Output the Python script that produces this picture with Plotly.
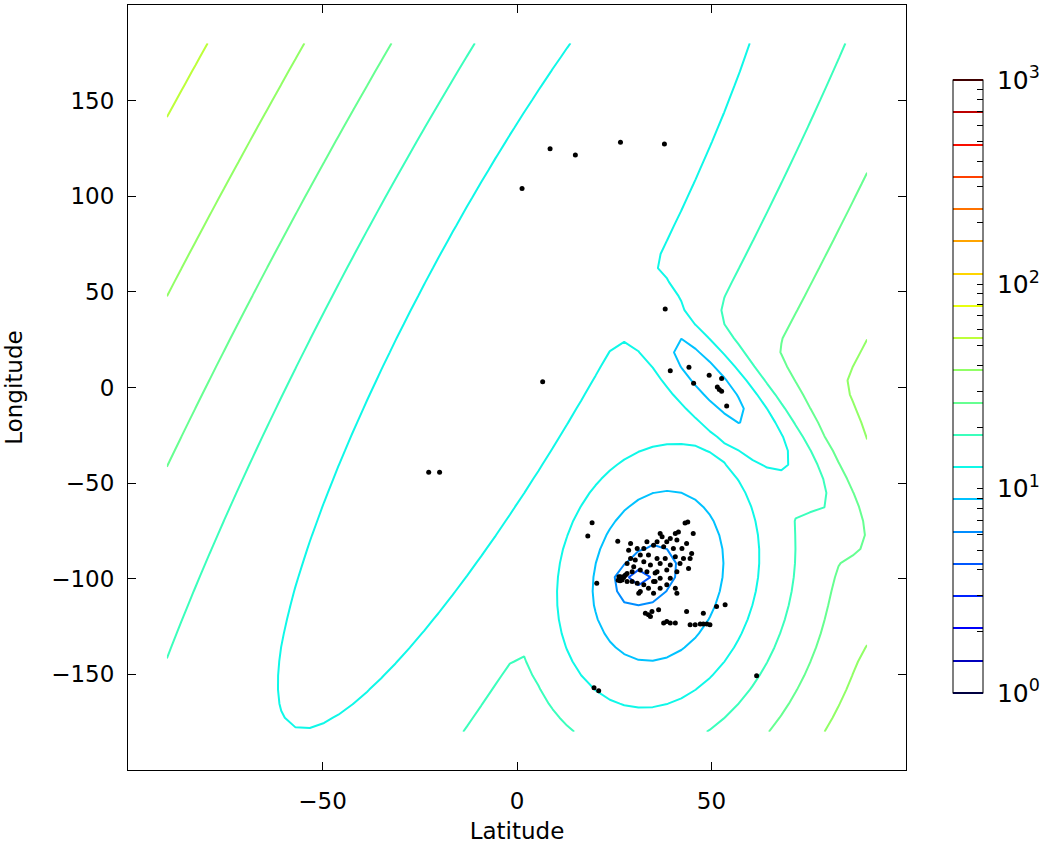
import numpy as np
import plotly.graph_objects as go

# ---- Gaussian-mixture model parameters (lat, lon) ----
comp_weights = [0.305, 1.9, 1.4, 0.35, 0.13, 0.0049, 0.00315]
comp_mean_lat = [3.0, 36.3, 32.0, 30.8, 49.4, 42.5, 35.0]
comp_mean_lon = [48.0, -98.5, -99.0, -99.2, 3.6, 10.0, 40.0]
comp_var_lat = [803.0, 50.8, 9.6, 5.0, 43.0, 61.0, 16.0]
comp_var_lon = [9884.0, 357.0, 43.6, 3.0, 221.0, 400.0, 81.0]
comp_cov = [2530.0, 20.0, 8.2, 0.0, -86.6, -120.0, 0.0]

grid_lat = np.linspace(-90, 90, 50)
grid_lon = np.linspace(-180, 180, 50)

# ---- observed points ----
points_lat = [
    8.5, 15.0, 26.6, 37.9, 1.3, 38.1, 6.6, -22.7, -19.9,
    39.4, 44.2, 49.4, 45.4, 52.6, 51.5, 52.0, 52.6, 53.9,
    19.8, 21.0, 61.6,
    43.2, 43.9, 41.5, 40.7, 41.1, 39.4, 36.8, 37.3, 38.5, 36.0, 45.3, 43.6, 42.4, 44.9,
    40.2, 37.7, 35.1, 33.4, 32.6, 30.9, 29.2, 28.7, 31.7, 33.8, 36.0, 38.1, 40.7, 42.8,
    44.5, 34.3, 36.8, 39.4, 41.9, 44.1, 32.6, 30.4, 29.2, 28.3, 30.0, 31.7, 33.4, 36.0,
    38.5, 41.1, 35.5, 35.1, 36.8, 39.4, 27.9, 26.6, 27.0, 28.3, 29.6, 30.9,
    32.6, 33.8, 31.7, 35.1, 36.8, 38.5, 40.7, 41.1, 31.3,
    27.4, 29.6, 28.3, 35.5, 26.5,
    26.2, 26.8, 27.6, 26.0,
    33.0, 33.8, 34.7, 36.4, 34.3, 38.5, 39.4, 40.7, 37.7, 43.6, 47.9, 51.3, 53.5, 44.5,
    45.8, 47.1, 47.9, 48.8, 49.6,
    19.3, 18.2, 20.5, 25.9,
]
points_lon = [
    124.9, 121.6, 128.2, 127.3, 104.1, 41.0, 3.0, -44.3, -44.3,
    8.8, 10.6, 6.4, 2.2, 4.7, 0.2, -1.0, -1.9, -9.7,
    -157.0, -158.6, -150.7,
    -70.8, -70.3, -75.5, -76.4, -79.8, -79.0, -76.4, -78.1, -80.7, -80.7, -76.4, -81.6, -84.2, -86.8,
    -84.2, -83.3, -82.5, -80.7, -84.2, -84.2, -81.6, -85.1, -87.6, -87.6, -89.4, -89.4, -88.5, -89.4,
    -89.4, -92.8, -92.0, -92.8, -92.0, -94.6, -91.1, -90.2, -89.4, -92.0, -93.7, -95.4, -96.3, -96.3,
    -95.4, -96.3, -101.5, -101.5, -99.8, -99.8, -98.0, -98.9, -100.6, -101.5, -101.5, -102.4,
    -103.2, -105.0, -106.7, -107.6, -105.0, -103.2, -105.0, -107.6, -107.6,
    -99.4, -96.3, -97.2, -97.0, -101.0,
    -99.0, -100.2, -98.6, -100.8,
    -118.0, -118.8, -117.1, -116.2, -119.7, -122.3, -123.2, -123.2, -123.2, -117.1, -118.0, -114.5, -113.6, -124.0,
    -124.0, -123.7, -123.7, -123.7, -124.0,
    -70.7, -77.6, -102.4, -80.4,
]

# colour-bar ticks (log10 of the values)
cbar_major = [0, 1, 2, 3]
cbar_major_text = ["\u00a010<sup>0</sup>", "\u00a010<sup>1</sup>", "\u00a010<sup>2</sup>", "\u00a010<sup>3</sup>"]
n_levels = 20

# ---- negative log-likelihood on the grid ----
LAT, LON = np.meshgrid(grid_lat, grid_lon)
dens = np.zeros_like(LAT)
for w, ml, mo, vl, vo, c in zip(comp_weights, comp_mean_lat, comp_mean_lon,
                                comp_var_lat, comp_var_lon, comp_cov):
    det = vl * vo - c * c
    dl = LAT - ml
    do = LON - mo
    q = (vo * dl * dl - 2 * c * dl * do + vl * do * do) / det
    dens += w * np.exp(-0.5 * q) / (2 * np.pi * np.sqrt(det))
Z = -np.log(dens)
logZ = np.log10(Z)

# matplotlib "jet"
def jet(t):
    def seg(pts):
        return float(np.interp(t, [p[0] for p in pts], [p[1] for p in pts]))
    r = seg([(0, 0), (0.35, 0), (0.66, 1), (0.89, 1), (1, 0.5)])
    g = seg([(0, 0), (0.125, 0), (0.375, 1), (0.64, 1), (0.91, 0), (1, 0)])
    b = seg([(0, 0.5), (0.11, 1), (0.34, 1), (0.65, 0), (1, 0)])
    return "rgb(%d,%d,%d)" % (round(r * 255), round(g * 255), round(b * 255))

stops = sorted(set([0, 0.11, 0.125, 0.34, 0.35, 0.375, 0.64, 0.65, 0.66, 0.89, 0.91, 1]))
jet_scale = [[s, jet(s)] for s in stops]

minor = [k + np.log10(m) for k in range(3) for m in range(2, 10)]
tickvals = cbar_major + minor
ticktext = cbar_major_text + [""] * len(minor)

font_family = "DejaVu Sans"

fig = go.Figure()
fig.add_trace(go.Contour(
    x=grid_lat, y=grid_lon, z=logZ,
    autocontour=False,
    contours=dict(start=0, end=3, size=3 / (n_levels - 1), coloring="lines"),
    line=dict(width=2, smoothing=0),
    colorscale=jet_scale, zmin=0, zmax=3, zauto=False,
    colorbar=dict(
        tickvals=tickvals, ticktext=ticktext,
        ticks="inside", ticklen=6, tickcolor="black", tickwidth=1,
        outlinewidth=1, outlinecolor="black",
        thickness=30, thicknessmode="pixels",
        len=613, lenmode="pixels",
        x=(953 - 128) / 778, xanchor="left", xpad=0,
        y=(770 - 80) / 765, yanchor="top", ypad=0,
        tickfont=dict(family=font_family, size=25, color="black"),
    ),
    hoverinfo="skip",
))
fig.add_trace(go.Scatter(
    x=points_lat, y=points_lon, mode="markers",
    marker=dict(color="black", size=5),
    showlegend=False, hoverinfo="skip",
))

axis_common = dict(
    ticks="inside", ticklen=8, tickcolor="black", mirror="ticks",
    showline=True, linecolor="black", linewidth=1,
    showgrid=False, zeroline=False,
    tickfont=dict(family=font_family, size=23, color="black"),
)
fig.update_layout(
    width=1044, height=849,
    margin=dict(l=128, r=138, t=5, b=79, autoexpand=False),
    paper_bgcolor="white", plot_bgcolor="white",
    showlegend=False,
    xaxis=dict(range=[-100, 100], tickvals=[-50, 0, 50], ticklabelstandoff=10,
               title=dict(text="Latitude", font=dict(family=font_family, size=23, color="black"), standoff=10),
               **axis_common),
    yaxis=dict(range=[-200, 200], tickvals=[-150, -100, -50, 0, 50, 100, 150], ticklabelstandoff=8,
               title=dict(text="Longitude", font=dict(family=font_family, size=23, color="black"), standoff=22),
               **axis_common),
)
fig.write_html("out.html", config={"displayModeBar": False},
               post_script="document.body.style.margin='0px';")
